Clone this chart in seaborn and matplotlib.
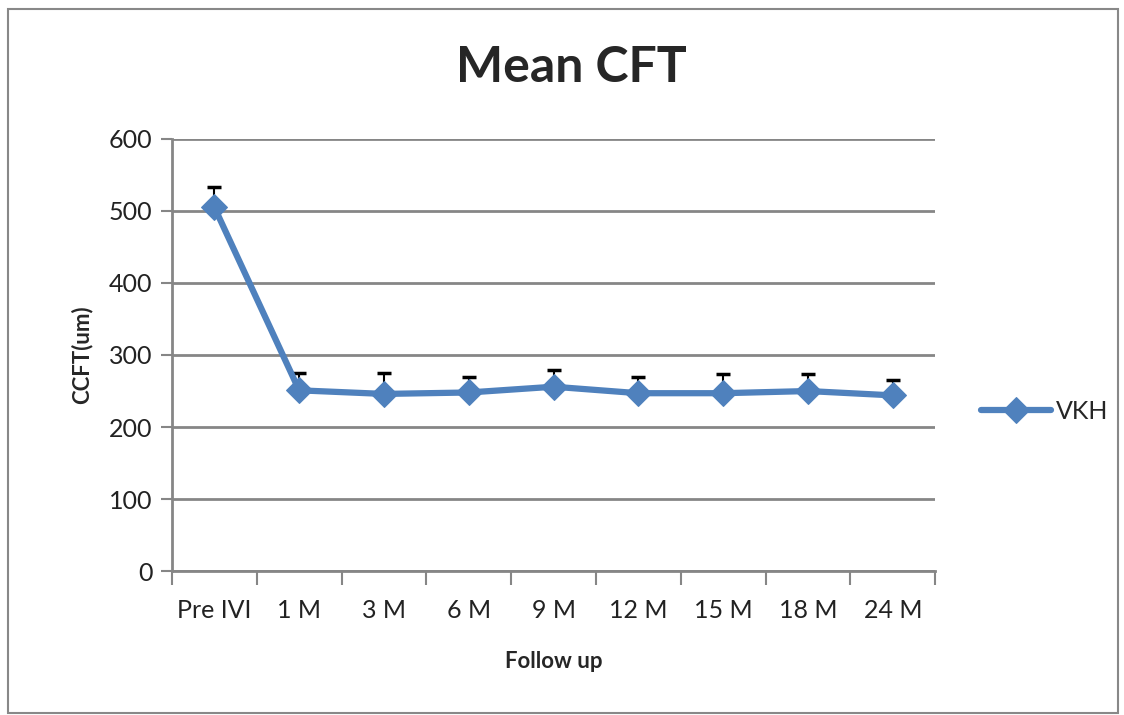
import matplotlib
matplotlib.use("Agg")
import matplotlib.pyplot as plt
import seaborn as sns
import pandas as pd
from matplotlib.patches import Rectangle
from matplotlib.ticker import FixedLocator

# --- Data ---
visits = ["Pre IVI", "1 M", "3 M", "6 M", "9 M", "12 M", "15 M", "18 M", "24 M"]
mean_cft = [505, 251, 246, 248, 256, 247, 247, 250, 244]
upper_err = [28, 24, 29, 22, 23, 22, 27, 24, 21]

LINE_COLOR = "#4F81BD"
GRID_COLOR = "#868686"

sns.set_theme(style="white")
plt.rcParams["font.family"] = ["Lato", "DejaVu Sans"]

df = pd.DataFrame({"visit": visits, "cft": mean_cft, "err": upper_err})

fig = plt.figure(figsize=(11.24, 7.15), dpi=100)
ax = fig.add_axes([0.153, 0.201, 0.679, 0.605])

# error bars (upper only)
ax.errorbar(df["visit"], df["cft"], yerr=[[0] * len(df), df["err"]],
            fmt="none", ecolor="black", elinewidth=1.5, capsize=5, capthick=2.5, zorder=2)

sns.lineplot(data=df, x="visit", y="cft", sort=False, ax=ax, color=LINE_COLOR,
             linewidth=4.5, marker="D", markersize=13, markeredgecolor=LINE_COLOR,
             label="VKH", zorder=3)

ax.set_xlim(-0.5, len(visits) - 0.5)
ax.set_ylim(0, 600)
ax.set_yticks(range(0, 601, 100))
ax.yaxis.grid(True, color=GRID_COLOR, linewidth=2)
ax.set_axisbelow(True)

# ticks at category boundaries
ax.xaxis.set_major_locator(FixedLocator([i - 0.5 for i in range(len(visits) + 1)]))
ax.xaxis.set_minor_locator(FixedLocator(list(range(len(visits)))))
ax.set_xticklabels([""] * (len(visits) + 1))
ax.set_xticklabels(visits, minor=True)
ax.tick_params(axis="x", which="major", direction="out", length=10, width=1.5,
               color=GRID_COLOR, bottom=True)
ax.tick_params(axis="x", which="minor", length=0, pad=20, labelsize=18, labelcolor="#222222")
ax.tick_params(axis="y", direction="out", length=8, width=1.5, color=GRID_COLOR,
               left=True, labelsize=18, labelcolor="#222222", pad=6)

for side in ["top", "right"]:
    ax.spines[side].set_visible(False)
for side in ["left", "bottom"]:
    ax.spines[side].set_color(GRID_COLOR)
    ax.spines[side].set_linewidth(2)

ax.set_xlabel("Follow up", fontsize=16, fontweight="bold", labelpad=21)
ax.set_ylabel("CCFT(um)", fontsize=16, fontweight="bold", labelpad=12)
fig.text(0.508, 0.906, "Mean CFT", ha="center", va="center", fontsize=36, fontweight="bold")

leg = ax.legend(loc="center left", bbox_to_anchor=(1.03, 0.37), frameon=False,
                fontsize=18, handlelength=2.8, handletextpad=0.2)

# outer chart border
fig.patches.append(Rectangle((0.007, 0.003), 0.988, 0.985, transform=fig.transFigure,
                             fill=False, edgecolor="#888888", linewidth=1.5))

fig.savefig("out.png", dpi=100)
